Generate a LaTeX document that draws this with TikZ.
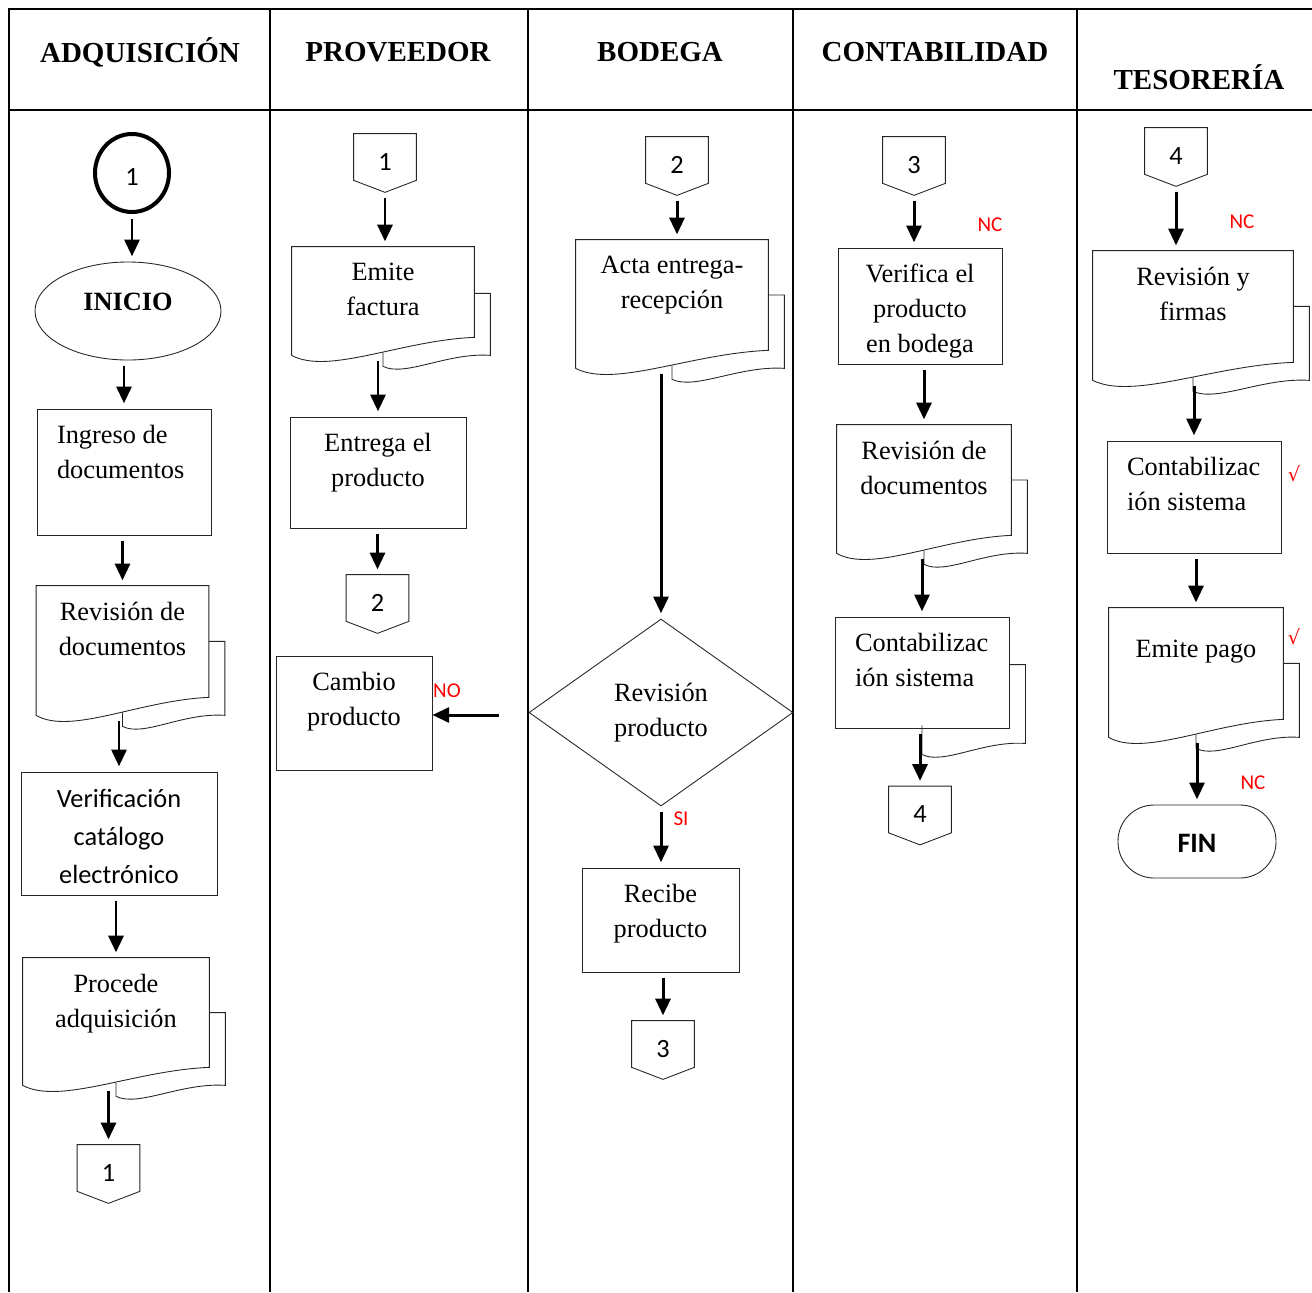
\documentclass[tikz,border=0pt]{standalone}
\usepackage{fontspec}
\setmainfont{Liberation Serif}
\newfontfamily\calib{Carlito}
\newfontfamily\djv{DejaVu Sans}
\usepackage{xcolor}
\usepackage{tikz}
\usetikzlibrary{calc,arrows.meta,shapes.geometric}
\definecolor{nred}{HTML}{FF0000}
\definecolor{lnk}{HTML}{262626}
\newdimen\pxu \pxu=0.02cm

% text set at the top of a box of given size (in px)
\newcommand\toptext[4][16]{\parbox[c][#3\pxu][t]{#2\pxu}{\centering\vspace*{#1\pxu}#4}}
\newcommand\toptextl[4][16]{\parbox[c][#3\pxu][t]{#2\pxu}{\raggedright\leftskip=20\pxu\vspace*{#1\pxu}#4}}

% document sheet with wavy bottom, and the sheet behind it
\newcommand\docfront[1]{%
  \draw[shp] (#1.south west) -- (#1.north west) -- (#1.north east)
    -- ($(#1.south east)+(0,-18)$)
    .. controls ($(#1.south west)!0.6!(#1.south east)+(0,-15)$)
       and ($(#1.south west)!0.2!(#1.south east)+(0,20)$) .. (#1.south west);}
\newcommand\docback[2][0]{%
  \draw[shp] ($(#2.north east)!0.43!(#2.south east)$) -- ++(16,0)
    -- ($(#2.south east)+(16,#1)$)
    .. controls ($(#2.south west)!0.85!(#2.south east)+(0,#1-3)$)
       and ($(#2.south west)!0.62!(#2.south east)+(0,#1+22)$) .. ($(#2.south)+(0,#1+11)$)
    -- ($(#2.south)+(0,-3)$);}
% off-page connector
\newcommand\offpage[1]{%
  \draw[shp] (#1.north west) -- (#1.north east) -- (#1.south east)
    -- ($(#1.south)+(0,12)$) coordinate (#1-tip) -- (#1.south west) -- cycle;}

\begin{document}
\begin{tikzpicture}[x=0.02cm, y=-0.02cm, font=\fontsize{15}{19.8}\selectfont,
  grid/.style={line width=1.6pt},
  shp/.style={line width=0.5pt, draw=lnk},
  box/.style={draw, shp, rectangle, inner sep=0pt},
  docn/.style={rectangle, inner sep=0pt},
  offpg/.style={rectangle, inner sep=0pt, minimum width=62*\pxu, minimum height=46*\pxu,
                text height=15pt, font=\calib\fontsize{15}{18}\selectfont},
  hdr/.style={font=\bfseries\fontsize{16.5}{20}\selectfont},
  lab/.style={text=nred, inner sep=0pt, font=\calib\fontsize{12}{14}\selectfont},
  arr/.style={-{Triangle[length=9.5pt,width=8.5pt]}, line width=1.7pt,
              shorten <=3pt, shorten >=3pt}]
  \useasboundingbox (0,0) rectangle (1312,1292);

  % lanes
  \draw[grid] (9,1292) -- (9,9) -- (1312,9);
  \draw[grid] (9,110) -- (1312,110);
  \foreach \gx in {270,528,793,1077}
    \draw[grid] (\gx,9) -- (\gx,1292);

  \node[hdr] (hadq) at (140,52) {ADQUISICIÓN};
  \node[hdr] (hpro) at (398,52) {PROVEEDOR};
  \node[hdr] (hbod) at (660,52) {BODEGA};
  \node[hdr] (hcon) at (935,52) {CONTABILIDAD};
  \node[hdr] (htes) at (1199,77) {TESORERÍA};

  % ADQUISICION
  \node[draw, ellipse, line width=2.3pt, minimum width=74*\pxu, minimum height=78*\pxu,
        text height=14pt, font=\calib\fontsize{15}{18}\selectfont] (st1) at (132,173) {1};
  \node[draw, shp, ellipse, minimum width=186*\pxu, minimum height=98*\pxu,
        font=\bfseries\fontsize{15}{19.8}\selectfont] (inicio) at (128,311) {\raisebox{18\pxu}{INICIO}};
  \node[box] (ingreso) at (124,472) {\toptextl{174}{126}{Ingreso de\\documentos}};
  \node[docn] (revdoc1) at (122.5,650.5) {\toptext{172}{129}{Revisión de\\documentos}};
  \node[box, font=\calib\fontsize{15}{21.8}\selectfont] (verif) at (119,833.5)
    {\toptext[17]{196}{123}{Verificación\\catálogo\\electrónico}};
  \node[docn] (procede) at (116,1021.5) {\toptext{186}{127}{Procede\\adquisición}};
  \node[offpg] (out1) at (108.5,1168) {1};

  % PROVEEDOR
  \node[offpg] (in1) at (385,157) {1};
  \node[docn] (factura) at (383,301) {\toptext{182}{108}{Emite\\factura}};
  \node[box] (entrega) at (378,472.5) {\toptext{176}{111}{Entrega el\\producto}};
  \node[offpg] (out2) at (377.5,598) {2};
  \node[box] (cambio) at (354,713) {\toptext{156}{114}{Cambio\\producto}};

  % BODEGA
  \node[offpg] (in2) at (677,160) {2};
  \node[docn] (acta) at (672,304) {\toptext{192}{128}{Acta entrega-\\recepción}};
  \node[draw, shp, diamond, minimum width=264*\pxu, minimum height=187*\pxu,
        inner sep=0pt, align=center] (dec) at (661,712.5) {Revisión\\producto};
  \node[box] (recibe) at (660.5,920) {\toptext{157}{104}{Recibe\\producto}};
  \node[offpg] (out3) at (663,1044) {3};
  \coordinate (nostart) at (499,715);

  % CONTABILIDAD
  \node[offpg] (in3) at (914,160) {3};
  \node[box] (verifica) at (920,306) {\toptext{164}{116}{Verifica el\\producto\\en bodega}};
  \node[docn] (revdoc4) at (924,489) {\toptext{174}{128}{Revisión de\\documentos}};
  \node[box] (conta4) at (922,672.5) {\toptextl{174}{111}{Contabilizac\\ión sistema}};
  \node[offpg] (out4) at (920,809.5) {4};

  % TESORERIA
  \node[offpg] (in4) at (1176,151) {4};
  \node[docn] (firmas) at (1193,315.5) {\toptext{200}{129}{Revisión y\\firmas}};
  \node[box] (conta5) at (1194,497) {\toptextl{174}{112}{Contabilizac\\ión sistema}};
  \node[docn] (pago) at (1196,672.5) {\toptext[32]{174}{129}{Emite pago}};
  \node[draw, shp, rounded corners=36*\pxu, minimum width=158*\pxu, minimum height=73*\pxu,
        text height=13pt, font=\calib\bfseries\fontsize{16}{18}\selectfont] (fin) at (1197,841.5) {FIN};

  % marks
  \node[lab] (nc1) at (990,225) {NC};
  \node[lab] (nc2) at (1242,222) {NC};
  \node[lab] (nc3) at (1253,783) {NC};
  \node[lab] (lblno) at (447,691) {NO};
  \node[lab] (lblsi) at (681,819) {SI};
  \node[lab, font=\djv\fontsize{11}{13}\selectfont] (ok1) at (1294,474) {√};
  \node[lab, font=\djv\fontsize{11}{13}\selectfont] (ok2) at (1294,637) {√};

  % sheets and connectors outlines
  \docfront{revdoc1} \docback{revdoc1}
  \docfront{procede} \docback{procede}
  \docfront{factura} \docback{factura}
  \docfront{acta}    \docback{acta}
  \docfront{revdoc4} \docback{revdoc4}
  \docback[15]{conta4}
  \docfront{firmas}  \docback{firmas}
  \docfront{pago}    \docback{pago}
  \offpage{out1} \offpage{in1} \offpage{out2} \offpage{in2}
  \offpage{out3} \offpage{in3} \offpage{out4} \offpage{in4}

  % flow
  \draw[arr] (st1.south) -- (st1.south |- inicio.north);
  \draw[arr] (inicio.south -| ingreso.north) -- (ingreso.north);
  \draw[arr] (ingreso.south -| revdoc1.north) -- (revdoc1.north);
  \draw[arr] (revdoc1.south -| verif.north) -- (verif.north);
  \draw[arr] (verif.south -| procede.north) -- (procede.north);
  \draw[arr] (procede.south -| out1.north) -- (out1.north);
  \draw[arr] (in1-tip) -- (in1-tip |- factura.north);
  \draw[arr] (factura.south -| entrega.north) -- (entrega.north);
  \draw[arr] (entrega.south -| out2.north) -- (out2.north);
  \draw[arr] (in2-tip) -- (in2-tip |- acta.north);
  \draw[arr] (acta.south -| dec.north) -- (dec.north);
  \draw[arr] (dec.south) -- (dec.south |- recibe.north);
  \draw[arr] (recibe.south -| out3.north) -- (out3.north);
  \draw[arr, shorten <=0pt, shorten >=0pt] (nostart) -- (cambio.east |- nostart);
  \draw[arr] (in3-tip) -- (in3-tip |- verifica.north);
  \draw[arr] (verifica.south -| revdoc4.north) -- (revdoc4.north);
  \draw[arr] (revdoc4.south -| conta4.north) -- (conta4.north);
  \draw[arr] (conta4.south -| out4.north) -- (out4.north);
  \draw[arr] (in4-tip) -- (in4-tip |- firmas.north);
  \draw[arr] (firmas.south -| conta5.north) -- (conta5.north);
  \draw[arr] (conta5.south -| pago.north) -- (pago.north);
  \draw[arr] (pago.south -| fin.north) -- (fin.north);
\end{tikzpicture}
\end{document}
